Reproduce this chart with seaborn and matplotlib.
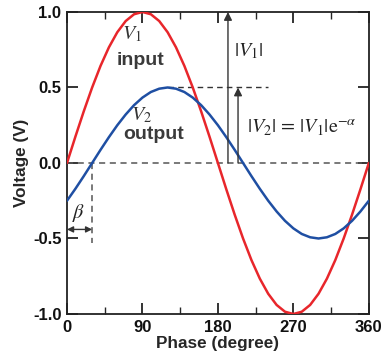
import numpy as np
import pandas as pd
import seaborn as sns
import matplotlib.pyplot as plt

# values, every 10 degrees
phase = list(range(0, 361, 10))
v_input = [0.0, 0.174, 0.342, 0.5, 0.643, 0.766, 0.866, 0.94, 0.985, 1.0,
           0.985, 0.94, 0.866, 0.766, 0.643, 0.5, 0.342, 0.174, 0.0,
           -0.174, -0.342, -0.5, -0.643, -0.766, -0.866, -0.94, -0.985, -1.0,
           -0.985, -0.94, -0.866, -0.766, -0.643, -0.5, -0.342, -0.174, 0.0]
v_output = [-0.25, -0.171, -0.087, 0.0, 0.087, 0.171, 0.25, 0.321, 0.383, 0.433,
            0.47, 0.492, 0.5, 0.492, 0.47, 0.433, 0.383, 0.321, 0.25,
            0.171, 0.087, 0.0, -0.087, -0.171, -0.25, -0.321, -0.383, -0.433,
            -0.47, -0.492, -0.5, -0.492, -0.47, -0.433, -0.383, -0.321, -0.25]
x_ticks = [0, 90, 180, 270, 360]
y_ticks = [-1.0, -0.5, 0.0, 0.5, 1.0]

sns.set_style('ticks')
plt.rcParams['font.family'] = ['Liberation Sans', 'DejaVu Sans']
plt.rcParams['mathtext.fontset'] = 'stix'

df = pd.DataFrame({'phase': phase, 'input': v_input, 'output': v_output})

fig = plt.figure(figsize=(3.85, 3.63), dpi=100)
ax = fig.add_axes([0.174, 0.135, 0.784, 0.832])

gray = '#555555'
dark = '#333333'
# reference lines
ax.axhline(0, color=gray, ls='--', lw=1.1, dashes=(4, 3), zorder=1)
ax.plot([120, 240], [0.5, 0.5], color=dark, ls='--', lw=1.0, dashes=(4, 3), zorder=1)
ax.plot([30, 30], [0, -0.53], color=gray, ls='--', lw=1.1, dashes=(4, 3), zorder=1)

sns.lineplot(data=df, x='phase', y='input', color='#e8262b', lw=1.8, ax=ax, zorder=3)
sns.lineplot(data=df, x='phase', y='output', color='#1f4fa3', lw=1.8, ax=ax, zorder=3)

arrow = dict(arrowstyle='-|>', color=dark, lw=1.0, mutation_scale=12, shrinkA=0, shrinkB=0)
ax.annotate('', xy=(192, 1.0), xytext=(192, 0), arrowprops=arrow)
ax.annotate('', xy=(204, 0.5), xytext=(204, 0), arrowprops=arrow)
ax.annotate('', xy=(0, -0.44), xytext=(30, -0.44),
            arrowprops=dict(arrowstyle='<|-|>', color=dark, lw=1.0, mutation_scale=9,
                            shrinkA=0, shrinkB=0))

ax.text(199, 0.74, r'$|V_1|$', fontsize=14.5, color='#222222', va='center', ha='left')
ax.text(215, 0.23, r'$|V_2|\,=\,|V_1|\mathrm{e}^{-\alpha}$', fontsize=14.5,
        color='#222222', va='center', ha='left')
ax.text(14, -0.33, r'$\beta$', fontsize=14.5, color='#222222', va='center', ha='center')
ax.text(77, 0.85, r'$V_1$', fontsize=14.5, color='#333333', va='center', ha='center')
ax.text(88, 0.68, 'input', fontsize=14, fontweight='bold', color='#3a3a3a',
        va='center', ha='center')
ax.text(89, 0.32, r'$V_2$', fontsize=14.5, color='#333333', va='center', ha='center')
ax.text(103, 0.19, 'output', fontsize=14, fontweight='bold', color='#3a3a3a',
        va='center', ha='center')

ax.set_xlim(0, 360)
ax.set_ylim(-1.0, 1.0)
ax.set_xticks(x_ticks)
ax.set_xticks([45, 135, 225, 315], minor=True)
ax.set_yticks(y_ticks)
ax.set_yticklabels([f'{v:.1f}' for v in y_ticks])
ax.tick_params(axis='both', which='major', direction='in', length=8, width=1.2,
               top=True, right=True, labelsize=12, pad=4, colors='#111111')
ax.tick_params(axis='x', which='minor', direction='in', length=5, width=1.0,
               top=True, bottom=True)
for lbl in ax.get_xticklabels() + ax.get_yticklabels():
    lbl.set_fontweight('bold')
for sp in ax.spines.values():
    sp.set_linewidth(1.3)
    sp.set_color('#222222')

ax.set_xlabel('Phase (degree)', fontsize=12.3, fontweight='bold', labelpad=1)
ax.set_ylabel('Voltage (V)', fontsize=12.3, fontweight='bold', labelpad=3)

fig.savefig('out.png', dpi=100)
